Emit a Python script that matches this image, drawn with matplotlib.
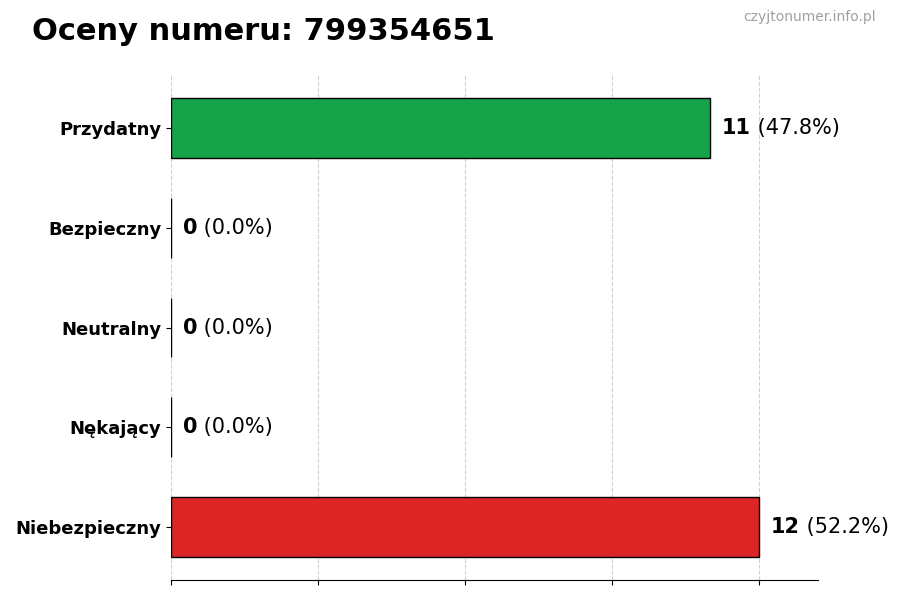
import matplotlib
matplotlib.use("Agg")
import matplotlib.pyplot as plt

# ── Data ──────────────────────────────────────────────────────────────────────

categories = ["Przydatny", "Bezpieczny", "Neutralny", "Nękający", "Niebezpieczny"]
counts = [11, 0, 0, 0, 12]
colors = ["#16a34a", "#9ca3af", "#60a5fa", "#f97316", "#dc2626"]
number = "799354651"

total = sum(counts)
percents = [100 * c / total for c in counts]

# ── Plot ──────────────────────────────────────────────────────────────────────

fig = plt.figure(figsize=(9, 6), dpi=100)
ax = fig.add_axes([0.19, 0.0333, 0.719, 0.8417])

ypos = list(range(len(categories)))[::-1]
ax.barh(ypos, counts, height=0.6, color=colors, edgecolor="black", linewidth=1, zorder=3)

ax.set_yticks(ypos)
ax.set_yticklabels(categories, fontsize=13, fontweight="bold")
ax.set_xticks([0, 3, 6, 9, 12])
ax.set_xticklabels([])
ax.set_xlim(0, max(counts) * 1.1)

ax.grid(axis="x", linestyle="--", color="#d0d0d0", linewidth=0.8, zorder=0)
for side in ["top", "right", "left"]:
    ax.spines[side].set_visible(False)

offset = max(counts) * 0.02
for y, c, p in zip(ypos, counts, percents):
    t = ax.text(c + offset, y, str(c), fontsize=15, fontweight="bold", va="center", ha="left")
    ax.annotate(f" ({p:.1f}%)", xy=(1, 0), xycoords=t, va="bottom", ha="left", fontsize=15)

fig.text(0.036, 0.948, f"Oceny numeru: {number}", fontsize=22, fontweight="bold",
         ha="left", va="center")
fig.text(0.973, 0.972, "czyjtonumer.info.pl", fontsize=10, color="#a0a0a0",
         ha="right", va="center")

fig.savefig("out.png", dpi=100)
